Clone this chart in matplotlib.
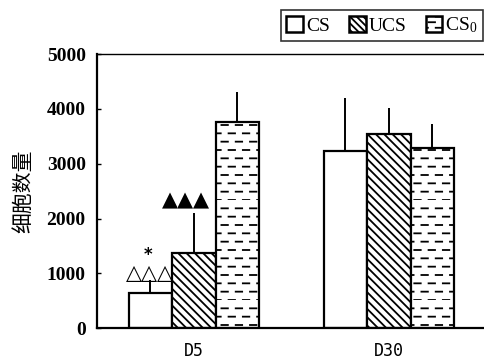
import numpy as np
import matplotlib
matplotlib.use('Agg')
import matplotlib.pyplot as plt
from matplotlib import hatch as mhatch
from matplotlib.patches import Patch
from matplotlib.path import Path

# data
groups = ['D5', 'D30']
series = ['CS', 'UCS', r'$\mathregular{CS_0}$']
cs_vals = [640, 3240]
ucs_vals = [1380, 3540]
cs0_vals = [3760, 3290]
cs_err = [230, 960]
ucs_err = [720, 480]
cs0_err = [550, 440]
yticks = [0, 1000, 2000, 3000, 4000, 5000]
ylabel = '细胞数量'
# significance marks: (group index, series index, text, height)
marks = [(0, 0, '△△△', 1010), (0, 0, '*', 1330), (0, 1, '▲▲▲', 2330)]


class DashHatch(mhatch.HatchPatternBase):
    """short horizontal dashes instead of full lines for '-'"""
    def __init__(self, hatch, density):
        self.rows = int((hatch.count('-') + hatch.count('+')) * density)
        self.cols = 7
        self.num_vertices = self.rows * self.cols * 2

    def set_vertices_and_codes(self, vertices, codes):
        k = 0
        for i in range(self.rows):
            y = i / self.rows
            off = 0.5 / self.cols if i % 2 else 0.0
            for j in range(self.cols):
                x0 = (j / self.cols + off) % 1.0
                x1 = min(x0 + 0.45 / self.cols, 1.0)
                vertices[k] = (x0, y)
                vertices[k + 1] = (x1, y)
                codes[k] = Path.MOVETO
                codes[k + 1] = Path.LINETO
                k += 2


mhatch._hatch_types = [DashHatch if t is mhatch.HorizontalHatch else t
                       for t in mhatch._hatch_types]

plt.rcParams['hatch.linewidth'] = 1.3
serif = 'Liberation Serif'

fig = plt.figure(figsize=(4.84, 3.63), dpi=100)
ax = fig.add_axes([0.200, 0.096, 0.82, 0.755])

x = np.arange(len(groups))
w = 0.223
vals = [cs_vals, ucs_vals, cs0_vals]
errs = [cs_err, ucs_err, cs0_err]
hatches = ['', '\\\\\\\\', '--']
for k in range(3):
    xs = x + (k - 1) * w
    ax.bar(xs, vals[k], w, color='white', edgecolor='black', lw=1.6,
           hatch=hatches[k], zorder=2)
    ax.errorbar(xs, vals[k], yerr=[np.zeros(2), errs[k]], fmt='none',
                ecolor='black', elinewidth=1.4, capsize=0, zorder=1)

for g, s, txt, h in marks:
    xx = x[g] + (s - 1) * w
    if txt == '*':
        ax.text(xx - 0.01, h, txt, ha='center', va='center', fontsize=12,
                fontweight='bold', family='DejaVu Sans')
    else:
        if s == 1:
            xx -= 0.04
        ax.text(xx, h, txt, ha='center', va='center', fontsize=15,
                family='DejaVu Sans')

ax.set_xlim(-0.497, 1.487 + 0.05)
ax.set_ylim(0, 5000)
ax.set_yticks(yticks)
ax.set_yticklabels([str(t) for t in yticks], family=serif, fontsize=14,
                   fontweight='bold')
ax.set_xticks(x)
ax.set_xticklabels(groups, family='DejaVu Sans Mono', fontsize=12)
ax.tick_params(axis='y', direction='in', length=3, pad=8, width=1)
ax.tick_params(axis='x', length=0, pad=10)
ax.set_ylabel(ylabel, family='Noto Sans CJK SC', fontsize=15, labelpad=9)
for sp in ['left', 'bottom']:
    ax.spines[sp].set_linewidth(1.6)
ax.spines['top'].set_linewidth(1.0)
ax.spines['right'].set_visible(False)

handles = [Patch(facecolor='white', edgecolor='black', lw=1.8, hatch=h)
           for h in ['', '\\\\\\\\\\', '---']]
leg = fig.legend(handles, series, loc='upper right', ncol=3,
                 bbox_to_anchor=(1.019, 1.0), frameon=True, fancybox=False,
                 edgecolor='black', handlelength=0.85, handleheight=0.85,
                 handletextpad=0.15, columnspacing=1.0, borderpad=0.3,
                 prop={'family': serif, 'size': 14})
leg.get_frame().set_linewidth(1.2)

fig.savefig('out.png', dpi=100)
